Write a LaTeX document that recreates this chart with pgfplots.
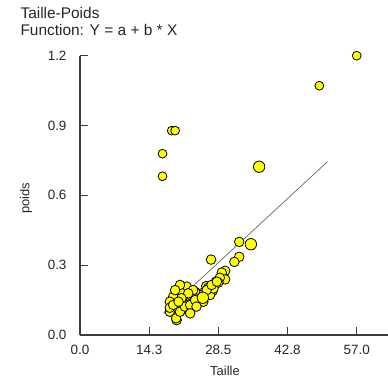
\documentclass[border=0pt]{standalone}
\usepackage{pgfplots}
\pgfplotsset{compat=1.18}
\usepackage{fontspec}
\setmainfont{Liberation Sans}
\definecolor{axisgray}{RGB}{60,60,60}
\definecolor{ptyellow}{RGB}{255,255,0}
\begin{document}
\begin{tikzpicture}
\begin{axis}[
  scale only axis,
  width=308bp, height=279.3bp,
  xmin=0, xmax=63.45, ymin=0, ymax=1.2,
  axis lines=left,
  axis line style={-, line width=1.3bp, draw=axisgray},
  tick style={line width=1.1bp, draw=axisgray},
  tick align=inside,
  major tick length=8bp,
  clip=false,
  xtick={0,14.25,28.5,42.75,57},
  xticklabels={0.0,14.3,28.5,42.8,57.0},
  ytick={0,0.3,0.6,0.9,1.2},
  yticklabels={0.0,0.3,0.6,0.9,1.2},
  /pgf/number format/assume math mode=true,
  ticklabel style={font=\fontsize{13.5}{15}\selectfont, text=black!85},
  xticklabel style={yshift=-7bp},
  yticklabel style={xshift=-10bp},
]
\addplot[color=black!60, line width=0.7bp, mark=none] coordinates {(17.2,0.093) (51.0,0.745)};
\addplot[only marks, mark=*, mark size=4.4bp, mark options={fill=ptyellow, draw=black, line width=0.8bp}] table {
x y
57.0 1.200
49.3 1.071
18.9 0.878
19.6 0.878
17.0 0.779
17.0 0.682
};
\addplot[only marks, mark=*, mark size=4.8bp, mark options={fill=ptyellow, draw=black, line width=0.8bp}] table {
x y
32.8 0.400
32.8 0.336
31.8 0.314
27.0 0.324
29.9 0.276
29.2 0.268
29.9 0.239
28.0 0.229
28.8 0.246
26.0 0.210
27.3 0.189
25.1 0.179
28.5 0.225
26.4 0.203
24.4 0.175
23.7 0.186
22.3 0.196
22.0 0.208
22.3 0.179
21.3 0.168
20.6 0.186
19.2 0.165
18.5 0.143
18.9 0.122
19.6 0.115
20.9 0.107
22.0 0.129
23.0 0.136
23.7 0.158
19.9 0.064
18.5 0.100
22.7 0.115
25.4 0.143
26.8 0.172
27.5 0.200
20.6 0.215
19.6 0.193
18.5 0.117
19.2 0.129
19.8 0.072
20.6 0.100
21.6 0.122
22.7 0.129
23.7 0.150
26.1 0.193
27.1 0.215
28.2 0.229
23.3 0.193
22.3 0.179
20.9 0.158
20.3 0.143
24.0 0.122
22.7 0.093
};
\addplot[only marks, mark=*, mark size=5.7bp, mark options={fill=ptyellow, draw=black, line width=0.8bp}] table {
x y
36.9 0.723
35.2 0.390
25.3 0.160
};
\end{axis}
\node[anchor=base west, font=\fontsize{15.5}{17}\selectfont, text=black!85] at (-63bp,316bp) {Taille-Poids};
\node[anchor=base west, font=\fontsize{15.5}{17}\selectfont, text=black!85] at (-63bp,299bp) {Function: Y = a + b * X};
\node[rotate=90, font=\fontsize{13}{15}\selectfont, text=black!85] at (-54bp,136.7bp) {poids};
\node[font=\fontsize{13}{15}\selectfont, text=black!85] at (145bp,-35.7bp) {Taille};
\pgfresetboundingbox
\path[use as bounding box] (-80bp,-43bp) rectangle (308bp,335bp);
\end{tikzpicture}
\end{document}
